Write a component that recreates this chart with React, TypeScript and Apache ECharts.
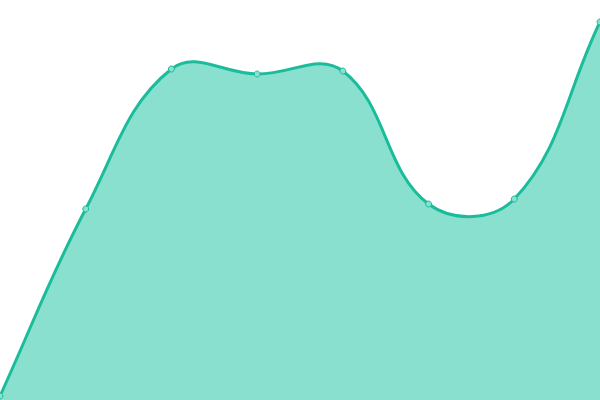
import { useEffect, useRef } from "react";
import * as echarts from "echarts";

const categories = ["1", "2", "3", "4", "5", "6", "7", "8"];
const values = [4, 191, 331, 326, 329, 196, 201, 378];

const LINE = "#1abc9c";
const FILL = "#8ae0cf";
const TENSION = 0.4;

// cardinal-style spline, control points weighted by segment length
function curvePath(pts: number[][]) {
  const cps = pts.map((cur, i) => {
    const prev = pts[i - 1] ?? cur;
    const next = pts[i + 1] ?? cur;
    const d01 = Math.hypot(cur[0] - prev[0], cur[1] - prev[1]);
    const d12 = Math.hypot(next[0] - cur[0], next[1] - cur[1]);
    const sum = d01 + d12 || 1;
    const fa = (TENSION * d01) / sum;
    const fb = (TENSION * d12) / sum;
    const vx = next[0] - prev[0];
    const vy = next[1] - prev[1];
    return {
      prev: [cur[0] - fa * vx, cur[1] - fa * vy],
      next: [cur[0] + fb * vx, cur[1] + fb * vy],
    };
  });
  let d = `M${pts[0][0]},${pts[0][1]}`;
  for (let i = 0; i < pts.length - 1; i++) {
    const a = cps[i].next;
    const b = cps[i + 1].prev;
    const p = pts[i + 1];
    d += ` C${a[0]},${a[1]} ${b[0]},${b[1]} ${p[0]},${p[1]}`;
  }
  return d;
}

export default function App() {
  const ref = useRef<HTMLDivElement>(null);

  useEffect(() => {
    if (!ref.current) return;
    const chart = echarts.init(ref.current, undefined, { renderer: "svg" });

    chart.setOption({
      animation: false,
      grid: { top: 0, right: 0, bottom: 0, left: 0 },
      xAxis: {
        type: "category",
        data: categories,
        boundaryGap: false,
        show: false,
      },
      yAxis: { type: "value", min: 0, max: 400, show: false },
      series: [
        {
          type: "custom",
          data: values.map((v, i) => [i, v]),
          renderItem: (params: any, api: any) => {
            const [cx, cy] = api.coord([api.value(0), api.value(1)]);
            const marker = {
              type: "circle",
              shape: { cx, cy, r: 3 },
              style: { fill: FILL, stroke: LINE, lineWidth: 1 },
              z2: 10,
            };
            if (params.dataIndex !== 0) return marker;
            const pts = values.map((v, i) => api.coord([i, v]));
            const base = api.coord([0, 0])[1];
            const line = curvePath(pts);
            const last = pts[pts.length - 1];
            const area = `${line} L${last[0]},${base} L${pts[0][0]},${base} Z`;
            return {
              type: "group",
              children: [
                { type: "path", shape: { pathData: area }, style: { fill: FILL, stroke: "none" } },
                {
                  type: "path",
                  shape: { pathData: line },
                  style: { fill: "none", stroke: LINE, lineWidth: 3 },
                },
                marker,
              ],
            };
          },
        },
      ],
    });

    return () => {
      chart.dispose();
    };
  }, []);

  return (
    <div
      ref={ref}
      style={{ position: "fixed", left: 0, top: 0, width: 600, height: 400, background: "#fff" }}
    />
  );
}
